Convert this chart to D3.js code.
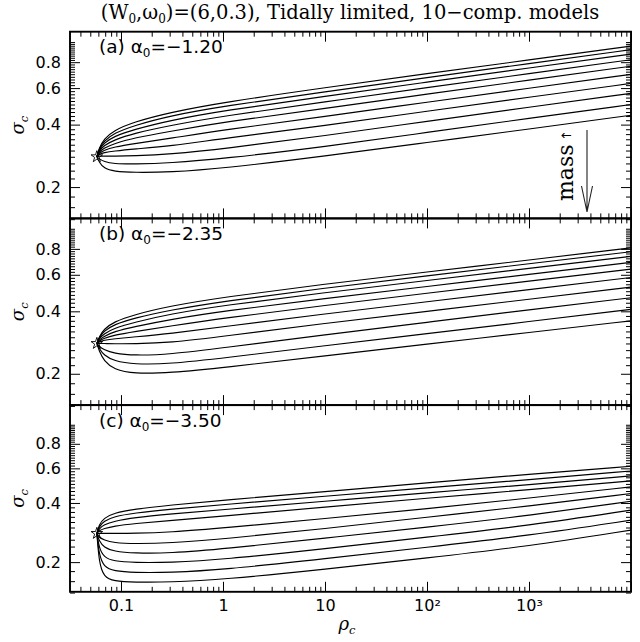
<!DOCTYPE html>
<html>
<head>
<meta charset="utf-8">
<script src="https://cdn.jsdelivr.net/npm/d3@7"></script>
<style>
  body { margin: 0; background: #fff; }
  text { fill: #000; }
</style>
</head>
<body>
<svg id="chart" width="640" height="642"></svg>
<script>
// Central density grid (after the common starting model) shared by all curves
const rhoGrid = [0.061, 0.068, 0.085, 0.134, 0.3, 1, 10, 100, 1000, 10000];

// Common starting model (star marker)
const starRho = 0.058;
const starSigma = 0.28;

// Panel annotations
const panelLetters = ["(a)", "(b)", "(c)"];
const alphaLabels = ["−1.20", "−2.35", "−3.50"];

// Central velocity dispersion of each mass component (lightest first)
const sigmaA = [
  [0.308, 0.341, 0.375, 0.412, 0.458, 0.512, 0.603, 0.705, 0.820, 0.956],
  [0.305, 0.333, 0.363, 0.396, 0.441, 0.491, 0.576, 0.674, 0.788, 0.919],
  [0.301, 0.326, 0.351, 0.379, 0.419, 0.467, 0.548, 0.641, 0.750, 0.875],
  [0.298, 0.317, 0.337, 0.363, 0.396, 0.440, 0.515, 0.603, 0.705, 0.822],
  [0.295, 0.308, 0.324, 0.345, 0.371, 0.411, 0.479, 0.561, 0.656, 0.765],
  [0.291, 0.301, 0.312, 0.324, 0.343, 0.377, 0.438, 0.513, 0.599, 0.699],
  [0.288, 0.293, 0.298, 0.305, 0.315, 0.343, 0.396, 0.464, 0.542, 0.632],
  [0.282, 0.282, 0.282, 0.283, 0.288, 0.305, 0.354, 0.415, 0.485, 0.566],
  [0.274, 0.265, 0.259, 0.258, 0.261, 0.274, 0.313, 0.367, 0.429, 0.500],
  [0.264, 0.246, 0.238, 0.235, 0.236, 0.246, 0.282, 0.328, 0.381, 0.444]
];
const sigmaB = [
  [0.301, 0.328, 0.356, 0.385, 0.424, 0.468, 0.541, 0.619, 0.707, 0.809],
  [0.298, 0.321, 0.345, 0.371, 0.405, 0.447, 0.518, 0.593, 0.678, 0.775],
  [0.295, 0.312, 0.331, 0.354, 0.388, 0.427, 0.492, 0.563, 0.644, 0.736],
  [0.291, 0.303, 0.319, 0.337, 0.365, 0.401, 0.461, 0.527, 0.603, 0.689],
  [0.288, 0.296, 0.307, 0.319, 0.339, 0.371, 0.427, 0.489, 0.559, 0.639],
  [0.285, 0.290, 0.295, 0.301, 0.312, 0.337, 0.389, 0.445, 0.509, 0.582],
  [0.280, 0.280, 0.279, 0.279, 0.282, 0.303, 0.350, 0.400, 0.457, 0.523],
  [0.271, 0.261, 0.251, 0.245, 0.248, 0.267, 0.308, 0.354, 0.407, 0.465],
  [0.265, 0.246, 0.231, 0.222, 0.223, 0.238, 0.273, 0.312, 0.357, 0.409],
  [0.258, 0.231, 0.210, 0.200, 0.202, 0.214, 0.244, 0.278, 0.316, 0.360]
];
const sigmaC = [
  [0.310, 0.335, 0.355, 0.372, 0.390, 0.413, 0.456, 0.507, 0.560, 0.615],
  [0.303, 0.323, 0.341, 0.355, 0.372, 0.392, 0.433, 0.478, 0.525, 0.582],
  [0.296, 0.310, 0.323, 0.337, 0.351, 0.370, 0.408, 0.451, 0.495, 0.549],
  [0.289, 0.296, 0.305, 0.314, 0.325, 0.343, 0.381, 0.423, 0.467, 0.518],
  [0.280, 0.280, 0.280, 0.280, 0.284, 0.298, 0.333, 0.374, 0.423, 0.483],
  [0.268, 0.259, 0.251, 0.248, 0.250, 0.262, 0.296, 0.339, 0.385, 0.447],
  [0.256, 0.238, 0.227, 0.222, 0.222, 0.233, 0.265, 0.301, 0.345, 0.408],
  [0.236, 0.212, 0.202, 0.199, 0.199, 0.206, 0.234, 0.268, 0.307, 0.368],
  [0.217, 0.189, 0.180, 0.177, 0.177, 0.183, 0.208, 0.238, 0.273, 0.327],
  [0.198, 0.168, 0.160, 0.158, 0.158, 0.163, 0.184, 0.210, 0.241, 0.291]
];

// Axis ranges and ticks
const xDomain = [0.0316228, 10000];
const yDomains = [[0.14125, 1.12202], [0.14125, 1.12202], [0.14125, 1.25893]];
const xMajorTicks = [0.1, 1, 10, 100, 1000, 10000];
const xTickLabels = ["0.1", "1", "10", "10²", "10³", ""];
const yMajorTicks = [0.2, 0.4, 0.6, 0.8];
const yTickLabels = ["0.2", "0.4", "0.6", "0.8"];

const svg = d3.select("#chart");
const L = 70, R = 631, T = 31.7, PH = 186.7;
const x = d3.scaleLog().domain(xDomain).range([L, R]);

const xMinorTicks = [];
for (let e = -2; e <= 3; e++) {
  for (let k = 2; k <= 9; k++) {
    const v = k * Math.pow(10, e);
    if (v > xDomain[0] && v < xDomain[1]) xMinorTicks.push(v);
  }
}
const yMinorTicks = d3.range(14, 101, 2).map(v => v / 100).filter(v => yMajorTicks.indexOf(v) < 0);

const sansFont = "DejaVu Sans, sans-serif";
const serifFont = "DejaVu Serif, serif";

function styleAxis(g) {
  g.select(".domain").remove();
  g.selectAll(".tick line").attr("stroke", "#000").attr("stroke-width", 1);
}

[sigmaA, sigmaB, sigmaC].forEach((rows, p) => {
  const top = T + p * PH, bot = top + PH;
  const y = d3.scaleLog().domain(yDomains[p]).range([bot, top]);
  const g = svg.append("g");

  const clipId = "panel-clip-" + p;
  svg.append("clipPath").attr("id", clipId)
    .append("rect").attr("x", L).attr("y", top).attr("width", R - L).attr("height", PH);

  const line = d3.line()
    .x(d => x(d[0]))
    .y(d => y(d[1]))
    .curve(d3.curveBasis);

  const curves = g.append("g").attr("clip-path", `url(#${clipId})`);
  rows.forEach(row => {
    const pts = [[starRho, starSigma]].concat(rhoGrid.map((r, i) => [r, row[i]]));
    curves.append("path")
      .attr("d", line(pts))
      .attr("fill", "none")
      .attr("stroke", "#000")
      .attr("stroke-width", 1.15);
  });

  // starting model
  g.append("path")
    .attr("d", d3.symbol(d3.symbolStar, 42)())
    .attr("transform", `translate(${x(starRho)},${y(starSigma)})`)
    .attr("fill", "none")
    .attr("stroke", "#000")
    .attr("stroke-width", 0.9);

  // inward ticks on all four sides
  const xMajB = d3.axisBottom(x).tickValues(xMajorTicks).tickSizeInner(-10).tickSizeOuter(0).tickFormat("");
  const xMinB = d3.axisBottom(x).tickValues(xMinorTicks).tickSizeInner(-5).tickSizeOuter(0).tickFormat("");
  const xMajT = d3.axisTop(x).tickValues(xMajorTicks).tickSizeInner(-10).tickSizeOuter(0).tickFormat("");
  const xMinT = d3.axisTop(x).tickValues(xMinorTicks).tickSizeInner(-5).tickSizeOuter(0).tickFormat("");
  [xMajB, xMinB].forEach(a => g.append("g").attr("transform", `translate(0,${bot})`).call(a).call(styleAxis));
  [xMajT, xMinT].forEach(a => g.append("g").attr("transform", `translate(0,${top})`).call(a).call(styleAxis));

  const yMajL = d3.axisLeft(y).tickValues(yMajorTicks).tickSizeInner(-10).tickSizeOuter(0).tickPadding(9)
    .tickFormat((d, i) => yTickLabels[i]);
  const yMinL = d3.axisLeft(y).tickValues(yMinorTicks).tickSizeInner(-5).tickSizeOuter(0).tickFormat("");
  const yMajR = d3.axisRight(y).tickValues(yMajorTicks).tickSizeInner(-10).tickSizeOuter(0).tickFormat("");
  const yMinR = d3.axisRight(y).tickValues(yMinorTicks).tickSizeInner(-5).tickSizeOuter(0).tickFormat("");
  [yMajL, yMinL].forEach(a => g.append("g").attr("transform", `translate(${L},0)`).call(a).call(styleAxis)
    .selectAll("text").attr("font-family", sansFont).attr("font-size", 16).attr("fill", "#000"));
  [yMajR, yMinR].forEach(a => g.append("g").attr("transform", `translate(${R},0)`).call(a).call(styleAxis));

  if (p === 2) {
    const xLab = d3.axisBottom(x).tickValues(xMajorTicks).tickSize(0).tickPadding(8)
      .tickFormat((d, i) => xTickLabels[i]);
    g.append("g").attr("transform", `translate(0,${bot})`).call(xLab).call(styleAxis)
      .selectAll("text").attr("font-family", sansFont).attr("font-size", 16).attr("fill", "#000");
  }

  // frame
  g.append("rect")
    .attr("x", L).attr("y", top).attr("width", R - L).attr("height", PH)
    .attr("fill", "none").attr("stroke", "#000").attr("stroke-width", 1.9);

  // panel label
  const lab = g.append("text")
    .attr("x", 99).attr("y", top + 21.5)
    .attr("font-family", sansFont).attr("font-size", 18.5);
  lab.append("tspan").text(panelLetters[p] + "  α");
  lab.append("tspan").attr("font-size", 12).attr("dy", 4).text("0");
  lab.append("tspan").attr("dy", -4).text("=" + alphaLabels[p]);

  // y-axis title
  const yt = g.append("text")
    .attr("transform", `translate(24,${top + PH / 2}) rotate(-90)`)
    .attr("text-anchor", "middle")
    .attr("font-family", serifFont).attr("font-style", "italic").attr("font-size", 18);
  yt.append("tspan").text("σ");
  yt.append("tspan").attr("font-size", 11.5).attr("dy", 4).text("c");
});

// x-axis title
const xt = svg.append("text")
  .attr("x", 347).attr("y", 630)
  .attr("text-anchor", "middle")
  .attr("font-family", serifFont).attr("font-style", "italic").attr("font-size", 18);
xt.append("tspan").text("ρ");
xt.append("tspan").attr("font-size", 11.5).attr("dy", 4).text("c");

// title
const title = svg.append("text")
  .attr("x", 350).attr("y", 19)
  .attr("text-anchor", "middle")
  .attr("font-family", serifFont).attr("font-size", 19.5);
title.append("tspan").text("(W");
title.append("tspan").attr("font-size", 12).attr("dy", 4).text("0");
title.append("tspan").attr("dy", -4).text(",ω");
title.append("tspan").attr("font-size", 12).attr("dy", 4).text("0");
title.append("tspan").attr("dy", -4).text(")=(6,0.3), Tidally limited, 10−comp. models");

// mass direction indicator (top panel)
svg.append("text")
  .attr("transform", "translate(573,201) rotate(-90)")
  .attr("font-family", serifFont).attr("font-size", 22)
  .text("mass");
svg.append("text")
  .attr("transform", "translate(571,141) rotate(-90)")
  .attr("font-family", sansFont).attr("font-size", 13)
  .text("↑");
svg.append("path")
  .attr("d", "M587,130 L587,212 M581.5,186 L587,212 L592.5,186")
  .attr("fill", "none").attr("stroke", "#222").attr("stroke-width", 1.1);
</script>
</body>
</html>
